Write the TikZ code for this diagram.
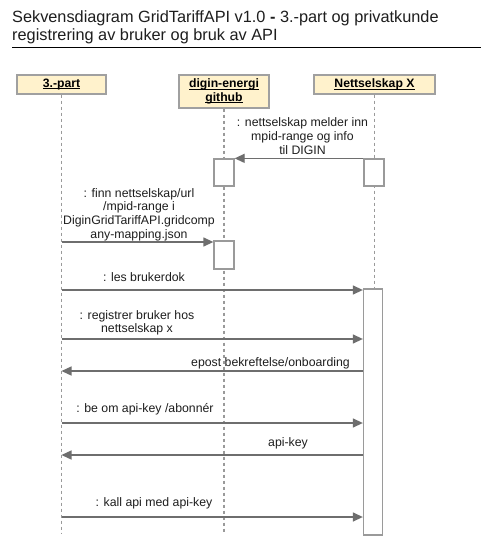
\documentclass[tikz,border=0pt]{standalone}
\usepackage{fontspec}
\setmainfont{Liberation Sans}
\usetikzlibrary{arrows.meta}
\definecolor{hdrfill}{HTML}{FFF2CC}
\definecolor{hdrdraw}{HTML}{A0A0A0}
\definecolor{lifec}{HTML}{9A9A9A}
\definecolor{arrowc}{HTML}{6E6E6E}
\definecolor{txtc}{HTML}{1E1E1E}
\newcommand{\myul}[1]{{\setbox0\hbox{#1}\rlap{\rule[-1.7pt]{\wd0}{0.75pt}}\box0}}
\tikzset{
  titletext/.style={anchor=base west, inner sep=0pt, text=txtc, font=\fontsize{16.3}{18}\selectfont},
  hdr/.style={draw=hdrdraw, fill=hdrfill, line width=1.3pt, inner sep=0pt, align=center,
              text=black, font=\fontsize{12.2}{13.5}\selectfont\bfseries},
  lifeline/.style={draw=lifec, line width=1.3pt, dash pattern=on 3pt off 3pt},
  actbox/.style={draw=lifec, fill=white, line width=1.3pt, inner sep=0pt},
  msg/.style={draw=arrowc, line width=1.3pt, -{Triangle[length=10pt,width=9pt]}},
  lbl/.style={inner sep=0pt, align=center, text=txtc, font=\fontsize{12.3}{13.6}\selectfont}
}
\begin{document}
\begin{tikzpicture}[x=1pt,y=-1pt]
\useasboundingbox (0,0) rectangle (495,547);
\fill[white] (0,0) rectangle (495,547);

% title
\node[titletext] (t1) at (12,22.3) {Sekvensdiagram GridTariffAPI v1.0 \textbf{-} 3.-part og privatkunde};
\node[titletext] (t2) at (12,40) {registrering av bruker og bruk av API};
\coordinate (ul1) at (12,47.7);
\coordinate (ul2) at (481,47.7);
\draw[line width=1pt, black] (ul1) -- (ul2);

% participants
\node[hdr, minimum width=89, minimum height=19] (pA) at (61.5,84.5) {\myul{3.-part}};
\node[hdr, minimum width=90, minimum height=33] (pB) at (224,91.5) {\myul{digin-energi}\\\myul{github}};
\node[hdr, minimum width=121, minimum height=19] (pC) at (374.5,84.5) {\myul{Nettselskap X}};

% lifelines
\coordinate (eA) at (61.5,533);
\coordinate (eB) at (224,533);
\coordinate (eC) at (374.5,533);
\draw[lifeline] (pA.south) -- (eA);
\draw[lifeline] (pB.south) -- (eB);
\draw[lifeline] (pC.south) -- (eC);

% activation boxes
\node[actbox, minimum width=20, minimum height=27] (b1) at (224,172.5) {};
\node[actbox, minimum width=20, minimum height=27] (c1) at (374,172.5) {};
\node[actbox, minimum width=20, minimum height=28] (b2) at (224,255) {};
\node[actbox, minimum width=19, minimum height=246] (c2) at (373,412) {};

% message anchors on lifeline A
\coordinate (s2) at (61.5,242);
\coordinate (s3) at (61.5,290);
\coordinate (s4) at (61.5,339);
\coordinate (s5) at (61.5,371);
\coordinate (s6) at (61.5,423);
\coordinate (s7) at (61.5,455);
\coordinate (s8) at (61.5,517);

% messages
\draw[msg] (c1.north west) -- (b1.north east);
\draw[msg] (s2) -- (s2 -| b2.west);
\draw[msg] (s3) -- (s3 -| c2.west);
\draw[msg] (s4) -- (s4 -| c2.west);
\draw[msg] (s5 -| c2.west) -- (s5);
\draw[msg] (s6) -- (s6 -| c2.west);
\draw[msg] (s7 -| c2.west) -- (s7);
\draw[msg] (s8) -- (s8 -| c2.west);

% labels
\node[lbl] (l1) at (302.5,136) {: nettselskap melder inn\\mpid-range og info\\til DIGIN};
\node[lbl] (l2) at (139,214.5) {: finn nettselskap/url\\/mpid-range i\\DiginGridTariffAPI.gridcomp\\any-mapping.json};
\node[lbl] (l3) at (144,277) {: les brukerdok};
\node[lbl] (l4) at (137,323) {: registrer bruker hos\\nettselskap x};
\node[lbl] (l5) at (270.5,363) {epost bekreftelse/onboarding};
\node[lbl] (l6) at (145,409) {: be om api-key /abonnér};
\node[lbl] (l7) at (288,443) {api-key};
\node[lbl] (l8) at (154,503) {: kall api med api-key};
\end{tikzpicture}
\end{document}
